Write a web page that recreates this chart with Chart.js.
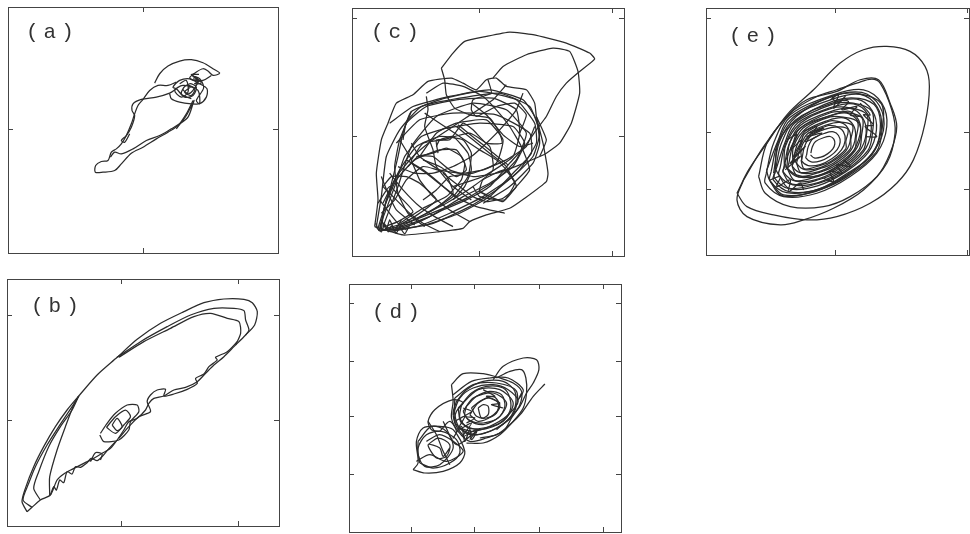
<!doctype html>
<html lang="en">
  <head>
    <meta charset="UTF-8" />
    <title>Phase portraits</title>
    <script src="https://cdn.jsdelivr.net/npm/chart.js"></script>
    <style>
      body { margin: 0; background: #fff; }
      #page { position: relative; width: 970px; height: 534px; overflow: hidden; }
      canvas { position: absolute; }
      .tag {
        position: absolute;
        font: 21px "Liberation Mono", monospace;
        letter-spacing: 5px;
        line-height: 24px;
        color: #333;
      }
    </style>
  </head>
  <body>
    <div id="page"></div>

    <script>
      // traced curves, [x, y] (y axis runs downward)
      const aArc = [[465,248],[480,220],[505,197],[540,182],[575,178],[610,187],[640,205],[660,218],[640,225],[625,212],[610,205],[590,215],[570,232],[585,240],[610,240],[635,225]];
      const aBody = [[580,300],[560,340],[535,375],[505,395],[470,415],[430,440],[395,458],[365,490],[345,510],[310,515],[287,515],[288,495],[305,483],[325,480],[335,455],[350,445],[365,430],[380,405],[395,370],[405,340],[415,315],[430,297],[450,270],[475,255],[505,255],[530,245]];
      const aReturn = [[332,470],[345,455],[365,460],[400,445],[440,420],[480,405],[515,385],[540,370],[565,350],[580,310],[583,300],[560,345],[530,385]];
      const aSide = [[530,265],[510,278],[470,290],[425,297],[400,310],[397,330],[405,345],[395,380],[380,405],[365,420],[375,425],[390,400]];
      const aKnot = [[510,280],[515,295],[540,305],[575,310],[600,310],[620,290],[622,265],[600,250],[570,235],[540,240],[520,260],[530,265],[555,290],[580,285],[590,260],[570,250],[550,265],[565,280],[580,270],[595,240],[580,228],[600,235],[612,262],[590,300],[600,310],[595,270],[560,255],[545,280],[575,295]];
      const aKnot2 = [[540,250],[560,240],[565,275],[545,290],[525,270],[550,255],[585,265],[575,285],[555,275],[572,260]];
      const aHatch = [[580,235],[600,240],[585,250],[605,248],[590,232],[575,222],[598,222]];

      const bOuter = [[80,725],[65,695],[75,655],[100,590],[130,530],[165,470],[200,420],[235,378],[290,315],[350,262],[410,208],[480,160],[550,125],[610,98],[670,87],[730,88],[755,98],[770,125],[762,165],[735,195],[700,230],[670,260],[640,285],[615,310],[590,335],[555,352],[520,360],[490,378],[460,385],[445,400],[435,420],[410,445],[385,455],[370,480],[350,510],[330,535],[305,550],[280,565],[250,580],[215,598],[190,612],[170,630],[150,675],[120,690],[95,712],[80,725]];
      const bMiddle = [[95,712],[68,690],[85,640],[105,590],[140,525],[175,470],[215,410],[235,378]];
      const bInner1 = [[120,690],[100,655],[115,605],[145,530],[180,470],[215,420],[235,378]];
      const bInner2 = [[148,675],[148,620],[170,540],[195,470],[220,405],[235,378]];
      const bTop1 = [[350,262],[420,215],[500,170],[570,135],[640,115],[700,115],[730,122],[735,150],[745,180],[735,195]];
      const bTop2 = [[355,262],[430,215],[510,175],[580,140],[630,130],[680,145],[715,155],[720,190],[705,225]];
      const bZigzag = [[150,675],[160,650],[168,660],[178,630],[190,638],[200,605],[215,612],[225,590],[240,592],[260,578],[272,565],[290,572],[305,560],[320,542],[345,515]];
      const bHexOuter = [[300,490],[320,460],[345,430],[380,405],[410,405],[415,425],[390,455],[385,480],[355,510],[310,515],[298,495]];
      const bHexMid = [[318,472],[345,440],[375,420],[390,440],[370,465],[345,490],[318,472]];
      const bHexInner = [[335,465],[350,445],[365,470],[350,482],[335,465]];
      const bWave = [[355,505],[385,470],[415,440],[450,425],[440,395],[450,375],[470,360],[495,358],[490,378],[520,372],[560,358],[590,340],[585,325],[610,312],[625,290],[650,270],[645,262],[680,245],[710,215]];
      const bSpur = [[270,575],[285,548],[305,552],[300,570]];

      const cOuter = [[105,680],[115,600],[110,520],[125,420],[145,370],[170,310],[220,285],[265,245],[335,235],[370,250],[410,270],[440,240],[470,235],[500,260],[560,270],[585,310],[590,350],[600,390],[610,430],[625,520],[620,545],[555,595],[510,625],[440,645],[390,665],[370,685],[300,695],[190,705],[105,680]];
      const cTop1 = [[305,205],[340,160],[375,125],[440,110],[510,97],[580,105],[680,130],[750,160],[765,178],[720,215],[680,250],[650,290],[620,350],[590,390],[555,440],[510,490],[450,560],[380,600],[310,630],[240,665],[170,690],[120,690]];
      const cTop2 = [[460,235],[490,200],[560,165],[640,145],[690,155],[715,215],[720,280],[695,370],[660,430],[620,460],[600,470],[540,495],[470,520],[400,530],[330,510],[280,470],[235,470],[205,500]];
      const cDrop = [[305,205],[315,240],[320,285],[345,325],[390,345],[450,355],[480,400],[487,430],[440,430],[400,390],[370,370],[330,420],[290,420],[295,460]];
      const cLeaf1 = [[110,680],[125,590],[140,470],[180,390],[245,320],[360,295],[480,280],[570,320],[600,400],[580,470],[520,530],[430,590],[330,640],[230,680],[120,692]];
      const cLeaf2 = [[115,685],[150,570],[175,470],[190,400],[215,335],[300,300],[420,275],[530,300],[585,370],[590,430],[540,510],[470,570],[390,620],[280,670],[150,695]];
      const cLeaf3 = [[120,680],[165,560],[195,470],[245,410],[320,385],[420,370],[520,380],[555,430],[520,500],[450,550],[370,590],[270,650],[160,690]];
      const cLeaf4 = [[120,690],[140,600],[180,510],[230,440],[300,410],[370,420],[395,460],[385,530],[340,590],[260,640],[180,680],[125,690]];
      const cLeaf5 = [[125,690],[135,620],[170,540],[225,480],[300,450],[350,450],[375,490],[365,540],[320,590],[250,625],[180,670]];
      const cBar1 = [[200,480],[250,510],[300,550],[345,590],[410,620],[495,640]];
      const cBar2 = [[255,340],[300,370],[360,410],[420,450],[470,480],[510,520],[530,560],[490,595],[440,605],[400,590],[360,560],[310,520]];
      const cVert = [[260,290],[265,330],[255,380],[280,450],[290,500],[340,560],[395,600]];
      const cSweep1 = [[180,420],[210,470],[240,540],[280,590],[330,630],[390,665]];
      const cSweep2 = [[130,560],[170,600],[210,640],[250,670],[300,695]];
      const cSweep3 = [[150,520],[190,570],[240,620],[285,650],[340,680]];
      const cCurl = [[215,335],[180,420],[165,500],[175,580],[205,640],[255,680]];
      const cCross1 = [[500,255],[460,300],[400,340],[340,380],[280,420],[220,470],[170,530],[130,610]];
      const cCross2 = [[445,240],[455,280],[400,300],[395,330],[410,350],[470,320],[525,310],[560,345],[540,400]];
      const cCross3 = [[260,280],[310,250],[370,260],[430,290],[470,330],[510,380],[545,440],[570,510],[530,560],[495,600],[420,590],[400,560]];
      const cCross4 = [[550,280],[530,330],[480,390],[440,430],[395,470],[340,500],[280,520],[225,520],[175,500]];
      const cCross5 = [[585,380],[560,440],[500,480],[430,510],[370,520],[300,510],[240,470],[215,430]];
      const cCorner1 = [[120,600],[150,640],[175,670],[200,690]];
      const cCorner2 = [[125,530],[145,580],[170,630],[225,675]];
      const cHatch = [[108,680],[125,696],[135,672],[146,696],[155,678],[170,700],[180,682],[195,702],[210,675]];
      const cHatch2 = [[108,670],[118,692],[128,665],[140,690],[150,660],[165,690],[185,660]];
      const cMid1 = [[130,680],[175,560],[215,440],[290,350],[400,310],[500,330],[560,400],[530,480],[470,540],[390,590],[300,630],[200,670]];
      const cMid2 = [[240,470],[290,400],[350,370],[440,360],[490,420],[470,490],[400,520],[330,530],[290,570],[250,600]];
      const cMid3 = [[215,480],[250,430],[310,420],[390,400],[450,440],[460,510],[400,560],[320,610],[260,640]];
      const cMid4 = [[290,440],[300,420],[340,410],[385,460],[395,510],[375,560],[340,600]];
      const cSmall = [[230,470],[280,460],[320,445],[365,470],[380,510],[350,530],[300,500],[250,480]];
      const cUp1 = [[150,370],[220,320],[330,290],[450,270],[550,300],[590,360],[600,430],[580,490],[510,560],[430,610]];
      const cUp2 = [[190,420],[200,370],[260,320],[350,300],[460,295],[530,330],[540,400],[520,470],[430,530],[340,560]];
      const cUp3 = [[170,430],[240,360],[340,340],[470,345],[570,400],[575,460],[520,520],[450,590],[360,640],[260,675]];
      const cRect = [[420,575],[490,605],[525,550],[495,510],[430,540],[420,575],[475,600]];
      const cLow = [[125,640],[165,600],[200,540],[250,500],[315,520],[340,580],[280,630],[210,665],[140,685]];
      const cLow2 = [[130,560],[155,530],[200,530],[240,550],[290,600],[225,650],[170,680]];
      const cLow3 = [[115,610],[150,560],[190,600],[220,635],[175,665],[135,680]];
      const cDiag = [[350,380],[400,420],[450,460],[500,500],[520,540]];
      const cDiag2 = [[355,375],[405,415],[455,455],[505,495]];
      const cBar3 = [[215,490],[260,520],[310,560],[350,590]];
      const cKnee = [[395,310],[440,345],[490,405],[540,440],[580,430]];
      const cRight = [[590,350],[620,420],[600,470]];

      const dLobe = [[460,315],[490,275],[550,250],[590,255],[597,285],[580,325],[560,355],[540,395],[510,430],[470,465]];
      const dLobe2 = [[470,310],[510,290],[545,285],[558,310],[560,355],[550,400],[520,440],[480,480],[430,505],[380,505]];
      const dTail = [[615,328],[580,365],[545,415],[510,450],[470,480],[420,490]];
      const dRing0 = [[335,330],[370,297],[430,297],[480,310],[520,325],[545,350],[540,390],[515,430],[490,470],[440,490],[390,500],[355,470],[335,430],[340,380],[335,330]];
      const dRing1 = [[350,380],[380,345],[430,320],[490,320],[525,350],[525,400],[500,440],[450,470],[390,480],[350,450],[340,415],[350,380]];
      const dRing2 = [[365,390],[395,355],[440,335],[490,340],[510,370],[510,410],[480,445],[430,460],[385,460],[360,430],[365,390]];
      const dRing3 = [[380,395],[410,365],[450,350],[485,360],[495,395],[475,430],[430,445],[395,440],[375,420],[380,395]];
      const dRing4 = [[395,400],[420,380],[450,370],[475,385],[470,415],[440,430],[410,425],[395,400]];
      const dRing5 = [[415,400],[430,390],[445,395],[445,420],[425,430],[415,400]];
      const dRing6 = [[340,420],[360,370],[400,340],[460,330],[505,345],[535,380],[500,425],[450,455],[400,470],[360,460]];
      const dBump = [[300,470],[275,465],[265,440],[285,405],[340,375],[370,385],[350,410],[345,445],[375,490]];
      const dLow1 = [[220,585],[235,565],[230,500],[250,460],[300,455],[340,465],[375,530],[360,565],[310,590],[255,595],[220,585]];
      const dLow2 = [[240,565],[235,520],[260,480],[305,470],[350,495],[360,535],[330,565],[280,580],[240,565]];
      const dLow3 = [[265,510],[295,490],[330,510],[320,545],[290,550],[265,510],[300,520],[310,545],[330,520]];
      const dBridge = [[300,470],[330,440],[350,470],[340,490],[365,455],[375,500],[390,465],[395,495],[410,470],[350,510],[310,440]];
      const dA = [[345,370],[400,330],[470,325],[530,350],[520,420],[470,460],[410,480],[360,460],[345,420],[345,370]];
      const dB = [[355,400],[415,345],[480,345],[520,385],[490,440],[420,465],[365,445],[355,400]];
      const dC = [[370,410],[400,370],[460,355],[500,385],[480,425],[430,450],[385,435],[370,410]];
      const dD = [[390,420],[415,385],[460,365],[480,395],[455,425],[415,440],[390,420]];
      const dE = [[340,360],[395,320],[450,310],[505,310],[550,345],[535,375],[545,355]];
      const dHatch1 = [[430,345],[465,365],[440,365],[480,385],[455,390],[490,400]];
      const dHatch2 = [[345,440],[375,425],[355,465],[395,445],[370,485],[410,465],[390,495]];
      const dHatch3 = [[370,400],[395,410],[375,425],[405,430],[380,445]];
      const dLow4 = [[235,500],[275,455],[320,470],[340,520],[300,570],[255,575],[235,540],[235,500]];
      const dLow5 = [[230,560],[270,540],[320,560],[370,530],[340,500],[300,480],[260,500]];
      const dLow6 = [[265,440],[290,480],[310,530],[330,570]];

      const eOuter = [[140,580],[175,510],[230,430],[290,345],[370,270],[450,190],[520,150],[590,140],[660,155],[705,200],[718,260],[705,370],[670,480],[620,550],[540,610],[440,650],[350,660],[250,645],[170,620],[140,580]];
      const eRim1 = [[160,540],[140,600],[170,650],[270,675],[340,660],[430,625],[520,570],[590,490],[615,400],[605,330],[570,250],[545,238],[500,250],[440,270],[380,290],[300,340],[220,440],[160,540]];
      const eRim2 = [[205,530],[225,580],[300,620],[400,620],[480,590],[560,530],[600,460],[620,380],[600,310],[565,240],[510,240],[440,275],[350,300],[290,350],[230,430],[205,530]];
      const eRim3 = [[228,520],[250,430],[300,345],[430,285],[520,270],[575,310],[590,380],[560,460],[480,530],[380,580],[280,590],[225,550],[228,520]];
      const eRing1 = [[243,514],[262,431],[308,353],[427,298],[510,284],[561,321],[574,385],[547,459],[473,523],[381,569],[289,578],[239,542],[243,514]];
      const eRing2 = [[256,508],[273,432],[315,361],[424,311],[500,298],[546,332],[559,390],[534,458],[466,516],[382,558],[298,567],[252,533],[256,508]];
      const eRing3 = [[270,502],[285,434],[323,369],[422,323],[490,312],[532,342],[543,396],[520,456],[460,510],[384,548],[308,555],[266,525],[270,502]];
      const eRing4 = [[283,496],[296,435],[330,377],[419,336],[480,326],[517,353],[528,401],[507,455],[453,503],[385,537],[317,544],[279,516],[283,496]];
      const eRing5 = [[296,490],[308,436],[338,385],[416,349],[470,340],[503,364],[512,406],[494,454],[446,496],[386,526],[326,532],[293,508],[296,490]];
      const eRing6 = [[309,484],[320,437],[346,393],[413,362],[460,354],[489,375],[496,411],[481,453],[439,489],[387,515],[335,520],[307,500],[309,484]];
      const eRing7 = [[322,478],[331,438],[353,401],[410,375],[450,368],[474,386],[481,416],[468,452],[432,482],[388,504],[344,509],[320,491],[322,478]];
      const eRing8 = [[336,472],[343,440],[361,409],[408,387],[440,382],[460,396],[465,422],[454,450],[426,476],[390,494],[354,497],[334,483],[336,472]];
      const eRing9 = [[349,466],[354,441],[368,417],[405,400],[430,396],[445,407],[450,427],[441,449],[419,469],[391,483],[363,486],[347,474],[349,466]];
      const eRing10 = [[362,460],[366,442],[376,425],[402,413],[420,410],[431,418],[434,432],[428,447],[412,462],[392,472],[372,474],[361,465]];
      const eWob0 = [[229,512],[262,426],[298,354],[434,287],[509,282],[574,312],[576,388],[559,456],[470,531],[386,570],[278,588],[238,541],[229,512]];
      const eWob1 = [[255,517],[264,428],[319,361],[431,303],[507,296],[559,323],[570,393],[546,464],[475,518],[387,567],[299,576],[249,540],[255,517]];
      const eWob2 = [[257,510],[284,429],[313,370],[428,313],[489,310],[545,334],[547,399],[533,452],[457,518],[389,549],[297,565],[265,524],[257,510]];
      const eWob3 = [[282,504],[286,438],[332,369],[426,325],[479,324],[530,344],[529,404],[519,451],[450,511],[390,538],[306,553],[278,516],[282,504]];
      const eWob4 = [[283,489],[308,431],[328,386],[423,338],[469,338],[516,355],[514,409],[506,450],[443,504],[391,527],[315,542],[292,508],[283,489]];
      const eWob5 = [[308,492],[310,440],[348,385],[420,351],[459,352],[502,366],[498,414],[493,449],[436,497],[392,516],[324,530],[306,500],[308,492]];
      const eWob6 = [[311,477],[331,433],[343,402],[417,364],[449,366],[487,377],[482,419],[480,448],[429,490],[393,505],[333,518],[319,491],[311,477]];
      const eWob7 = [[335,480],[333,443],[363,401],[415,377],[439,380],[473,388],[467,425],[467,447],[423,484],[395,495],[343,507],[333,483],[335,480]];
      const eBand1 = [[250,520],[268,425],[318,350],[420,292],[515,278],[568,318],[580,392],[540,468],[466,530],[375,575],[280,585],[240,545]];
      const eBand2 = [[290,500],[300,425],[345,375],[430,345],[480,335],[510,372],[505,420],[478,470],[425,510],[372,530],[318,525],[285,500]];
      const eBand3 = [[340,395],[380,380],[345,425],[395,400],[350,410],[400,385],[355,400]];
      const eBand4 = [[420,300],[445,285],[430,325],[465,290],[440,310],[425,290]];
      const eZig1 = [[290,420],[320,405],[300,450],[335,420],[310,470],[345,440],[300,490],[330,470],[285,510]];
      const eZig2 = [[400,535],[430,545],[420,515],[455,520],[440,495],[480,500],[460,480]];
      const eZig3 = [[510,310],[540,345],[520,345],[550,375],[525,380],[560,410],[525,410]];
      const eZig4 = [[440,300],[475,305],[455,330],[500,320],[480,345],[510,350]];
      const eZig5 = [[240,540],[270,530],[260,560],[300,540],[295,575],[330,550],[340,570]];

      const axisX = [[25, 835], [20, 835], [37, 853], [28, 843], [47, 837]];
      const axisY = [[20, 757], [27, 768], [25, 768], [28, 772], [25, 765]];
      const ticksX = [[430], [362, 715], [420, 818], [215, 403, 598, 790], [437, 833]];
      const ticksY = [[387], [135, 450], [55, 410], [85, 260, 425, 600], [55, 398, 570]];
      const tags = ["(a)", "(b)", "(c)", "(d)", "(e)"];

      const curves = [
        [aArc, aBody, aReturn, aSide, aKnot, aKnot2, aHatch],
        [bOuter, bMiddle, bInner1, bInner2, bTop1, bTop2, bZigzag, bHexOuter, bHexMid, bHexInner, bWave, bSpur],
        [cOuter, cTop1, cTop2, cDrop, cLeaf1, cLeaf2, cLeaf3, cLeaf4, cLeaf5, cBar1, cBar2, cVert, cSweep1, cSweep2, cSweep3, cCurl, cCross1, cCross2, cCross3, cCross4, cCross5, cCorner1, cCorner2, cHatch, cHatch2, cMid1, cMid2, cMid3, cMid4, cSmall, cUp1, cUp2, cUp3, cRect, cLow, cLow2, cLow3, cDiag, cDiag2, cBar3, cKnee, cRight],
        [dLobe, dLobe2, dTail, dRing0, dRing1, dRing2, dRing3, dRing4, dRing5, dRing6, dBump, dLow1, dLow2, dLow3, dBridge, dA, dB, dC, dD, dE, dHatch1, dHatch2, dHatch3, dLow4, dLow5, dLow6],
        [eOuter, eRim1, eRim2, eRim3, eRing1, eRing2, eRing3, eRing4, eRing5, eRing6, eRing7, eRing8, eRing9, eRing10, eWob0, eWob1, eWob2, eWob3, eWob4, eWob5, eWob6, eWob7, eBand1, eBand2, eBand3, eBand4, eZig1, eZig2, eZig3, eZig4, eZig5],
      ];

      // where each panel sits on the page: left, top, width, height of the frame
      const frames = [
        [8, 7, 270, 246],
        [7, 279, 272, 247],
        [352, 8, 272, 248],
        [349, 284, 272, 248],
        [706, 8, 263, 247],
      ];
      const tagSpots = [[26, 21], [31, 295], [371, 21], [372, 301], [729, 25]];
      const smooth = [0.3, 0.25, 0.15, 0.3, 0.35];

      const page = document.getElementById("page");
      const pad = 2;

      function axis(position, range, tickValues, reverse) {
        return {
          type: "linear",
          position,
          min: range[0],
          max: range[1],
          reverse,
          border: { color: "#444", width: 1 },
          grid: { drawOnChartArea: false, tickLength: -5, tickColor: "#444" },
          ticks: { display: false },
          afterBuildTicks: (scale) => {
            scale.ticks = tickValues.map((value) => ({ value }));
          },
          afterFit: (scale) => {
            if (scale.isHorizontal()) scale.height = 0;
            else scale.width = 0;
          },
        };
      }

      curves.forEach((panel, i) => {
        const [left, top, width, height] = frames[i];
        const canvas = document.createElement("canvas");
        canvas.style.left = left - pad + "px";
        canvas.style.top = top - pad + "px";
        canvas.style.width = width + pad * 2 + "px";
        canvas.style.height = height + pad * 2 + "px";
        canvas.width = width + pad * 2;
        canvas.height = height + pad * 2;
        page.appendChild(canvas);

        new Chart(canvas.getContext("2d"), {
          type: "scatter",
          data: {
            datasets: panel.map((points) => ({
              data: points,
              showLine: true,
              tension: smooth[i],
              borderColor: "#2b2b2b",
              borderWidth: 1.25,
              pointRadius: 0,
              clip: false,
            })),
          },
          options: {
            responsive: false,
            animation: false,
            layout: { padding: pad },
            plugins: { legend: { display: false }, tooltip: { enabled: false } },
            scales: {
              x: axis("bottom", axisX[i], ticksX[i], false),
              xTop: axis("top", axisX[i], ticksX[i], false),
              y: axis("left", axisY[i], ticksY[i], true),
              yRight: axis("right", axisY[i], ticksY[i], true),
            },
          },
        });

        const tag = document.createElement("div");
        tag.className = "tag";
        tag.textContent = tags[i];
        tag.style.left = tagSpots[i][0] + "px";
        tag.style.top = tagSpots[i][1] + "px";
        page.appendChild(tag);
      });
    </script>
  </body>
</html>
